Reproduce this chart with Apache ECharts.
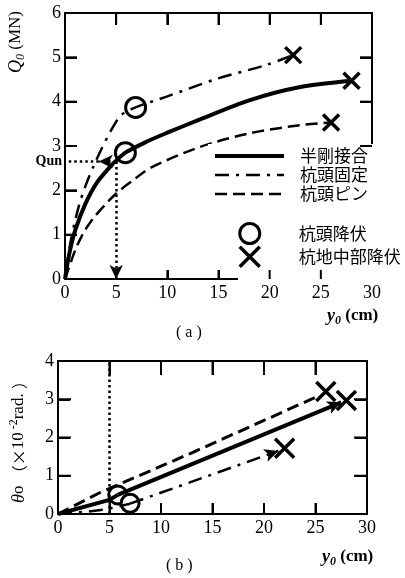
<!DOCTYPE html>
<html>
<head>
<meta charset="utf-8">
<script src="https://cdn.jsdelivr.net/npm/echarts@6/dist/echarts.min.js"></script>
<style>
html, body { margin: 0; padding: 0; background: #fff; }
#chart { width: 405px; height: 578px; }
</style>
</head>
<body>
<div id="chart"></div>
<script>
// (a) 水平荷重 Q0 (MN) - 杭頭変位 y0 (cm)
const semiRigidA = [[0, 0], [0.4, 0.55], [1.0, 1.1], [2.0, 1.7], [3.1, 2.17], [4.4, 2.53], [5.0, 2.67], [5.9, 2.85], [8, 3.1], [10, 3.3], [13.2, 3.6], [18, 4.03], [23, 4.33], [28, 4.47]]
const fixedHeadA = [[0, 0], [0.6, 0.9], [1.3, 1.6], [2.0, 2.1], [2.8, 2.55], [3.6, 2.95], [4.5, 3.35], [5.5, 3.7], [6.9, 3.87], [10, 4.12], [14.9, 4.52], [19.7, 4.83], [22.3, 5.05]]
const pinHeadA = [[0, 0], [1, 0.65], [1.8, 1.04], [2.8, 1.38], [4.1, 1.72], [5, 1.93], [6.5, 2.2], [8.3, 2.5], [13.2, 2.98], [18.1, 3.29], [23, 3.47], [26, 3.53]]
const headYieldA = [[5.9, 2.85], [6.9, 3.87]]
const bodyYieldA = [[22.3, 5.05], [28, 4.47], [26, 3.53]]

// (b) 杭頭回転角 θ0 (×10^-2 rad.) - y0 (cm)
const semiRigidB = [[0, 0], [5, 0.37], [5.8, 0.5], [27.5, 2.92]]
const fixedHeadB = [[0, 0], [2.8, 0.06], [4.6, 0.12], [7, 0.27], [21.4, 1.65]]
const pinHeadB = [[0, 0], [4, 0.55], [13, 1.6], [25.4, 3.1]]
const headYieldB = [[5.8, 0.5], [7, 0.28]]
const bodyYieldB = [[26, 3.2], [28, 2.97], [22, 1.72]]

// 目盛
const xTicks = [5, 10, 15, 20, 25]
const yTicksA = [1, 2, 3, 4, 5]
const yTicksRightA = [3, 4, 5] // 下側は凡例に隠れる
const yTicksB = [1, 2, 3]

// Qun の読み取り
const qunLevel = 2.65
const qunDisp = 5
const qunArrowAt = 3.3

const serif = '"Liberation Serif", "DejaVu Serif", serif'
const cjk = '"Noto Sans CJK JP", sans-serif'
const crossPath = 'path://M0 0L10 10M10 0L0 10'
const dashDot = [14, 7, 3, 7]
const dashed = [12, 6]
const dotted = [2.5, 3]

function xAx(grid, pos, showLabel, tickLen) {
    return {
        gridIndex: grid, type: 'value', position: pos, min: 0, max: 30, interval: 5,
        axisLine: { show: true, onZero: false, lineStyle: { color: '#000', width: 2 } },
        axisTick: { show: true, inside: true, length: tickLen, lineStyle: { color: '#000', width: 2 } },
        axisLabel: { show: showLabel, margin: 5, color: '#000', fontFamily: serif, fontSize: 18 },
        splitLine: { show: false },
    }
}

function yAx(grid, pos, max, showLabel) {
    return {
        gridIndex: grid, type: 'value', position: pos, min: 0, max: max, interval: 1,
        axisLine: { show: true, onZero: false, lineStyle: { color: '#000', width: 2 } },
        axisTick: { show: true, inside: true, length: 12, lineStyle: { color: '#000', width: 2 } },
        axisLabel: { show: showLabel, margin: 4, color: '#000', fontFamily: serif, fontSize: 18 },
        splitLine: { show: false },
    }
}

function lastSeg(arr) {
    return [{ coord: arr[arr.length - 2] }, { coord: arr[arr.length - 1] }]
}

const subRich = {
    i: { fontFamily: serif, fontStyle: 'italic', fontSize: 18, lineHeight: 22, verticalAlign: 'middle', color: '#000' },
    s: { fontFamily: serif, fontStyle: 'italic', fontSize: 12, lineHeight: 22, verticalAlign: 'bottom', color: '#000' },
    n: { fontFamily: serif, fontSize: 17, lineHeight: 22, verticalAlign: 'middle', color: '#000' },
    c: { fontFamily: cjk, fontSize: 16, lineHeight: 22, verticalAlign: 'middle', color: '#000' },
    p: { fontFamily: serif, fontSize: 12, lineHeight: 22, verticalAlign: 'top', color: '#000' },
}

const lineItem = { color: '#000' }
const circleItem = { color: '#fff', borderColor: '#000', borderWidth: 3, opacity: 1 }
const crossItem = { color: 'transparent', borderColor: '#000', borderWidth: 3.5, opacity: 1 }

const axisNames = [
    {
        type: 'text', x: 16, y: 42, rotation: Math.PI / 2,
        style: { text: '{i|Q}{s|0}{n| (MN)}', rich: subRich, align: 'center', verticalAlign: 'middle' },
    },
    {
        type: 'text', x: 19, y: 438, rotation: Math.PI / 2,
        style: { text: '{i|θ}{n|o }{c|（×}{n|10}{p| -2}{n|rad. }{c|）}', rich: subRich, align: 'center', verticalAlign: 'middle' },
    },
]

let chart = echarts.init(document.getElementById('chart'))
let option = {
    animation: false,
    grid: [
        { left: 65, top: 13, width: 307, height: 266 },
        { left: 58, top: 361, width: 309, height: 153 },
    ],
    xAxis: [
        xAx(0, 'bottom', true, 9),
        xAx(0, 'top', false, 12),
        xAx(1, 'bottom', true, 11),
        xAx(1, 'top', false, 14),
    ],
    yAxis: [
        yAx(0, 'left', 6, true),
        yAx(0, 'right', 6, false),
        yAx(1, 'left', 4, true),
        yAx(1, 'right', 4, false),
    ],
    title: [
        { text: '{i|y}{s|0}{n| (cm)}', left: 327, top: 305, padding: 0, textStyle: { rich: subRich } },
        { text: '( a )', left: 176, top: 325, padding: 0, textStyle: { fontFamily: serif, fontSize: 16, fontWeight: 'normal', color: '#000' } },
        { text: '{i|y}{s|0}{n| (cm)}', left: 322, top: 546, padding: 0, textStyle: { rich: subRich } },
        { text: '( b )', left: 166, top: 558, padding: 0, textStyle: { fontFamily: serif, fontSize: 16, fontWeight: 'normal', color: '#000' } },
    ],
    graphic: axisNames,
    legend: [
        {
            orient: 'vertical', left: 208, top: 144, padding: [3, 10, 19, 5],
            backgroundColor: '#fff', itemWidth: 69, itemHeight: 14, itemGap: 1, selectedMode: false,
            textStyle: { fontFamily: cjk, fontSize: 17, lineHeight: 18, padding: [0, 0, 0, 11], color: '#000' },
            data: [
                { name: '半剛接合', itemStyle: { opacity: 0 }, lineStyle: { width: 4 } },
                { name: '杭頭固定', itemStyle: { opacity: 0 }, lineStyle: { width: 2.5 } },
                { name: '杭頭ピン', itemStyle: { opacity: 0 }, lineStyle: { width: 2.5 } },
            ],
        },
        {
            orient: 'vertical', left: 238, top: 222, padding: [0, 4, 14, 0],
            backgroundColor: '#fff', itemWidth: 20, itemHeight: 20, itemGap: 0, selectedMode: false,
            textStyle: { fontFamily: cjk, fontSize: 17, lineHeight: 20, padding: [0, 0, 0, 34], color: '#000' },
            data: [
                { name: '杭頭降伏', icon: 'circle', itemStyle: circleItem },
                { name: '杭地中部降伏', icon: crossPath, itemStyle: crossItem },
            ],
        },
    ],
    series: [
        {
            name: '半剛接合', type: 'line', xAxisIndex: 0, yAxisIndex: 0, data: semiRigidA,
            symbol: 'none', smooth: 0.3, itemStyle: lineItem, lineStyle: { color: '#000', width: 4 },
            markLine: {
                silent: true, symbolSize: [10, 14],
                lineStyle: { color: '#000', width: 2.5, type: dotted },
                label: { show: false },
                data: [
                    [{ coord: [qunDisp, qunLevel], symbol: 'none' }, { coord: [qunArrowAt, qunLevel], symbol: 'arrow' }],
                    [{ coord: [qunArrowAt, qunLevel], symbol: 'none' }, {
                        coord: [0, qunLevel], symbol: 'none',
                        label: { show: true, position: 'end', distance: 3, formatter: 'Qun', color: '#000', fontFamily: serif, fontSize: 14, fontWeight: 'bold' },
                    }],
                    [{ coord: [qunDisp, qunLevel], symbol: 'none' }, { coord: [qunDisp, 0], symbol: 'arrow' }],
                ],
            },
        },
        {
            name: '杭頭固定', type: 'line', xAxisIndex: 0, yAxisIndex: 0, data: fixedHeadA,
            symbol: 'none', smooth: 0.3, itemStyle: lineItem, lineStyle: { color: '#000', width: 2.5, type: dashDot },
        },
        {
            name: '杭頭ピン', type: 'line', xAxisIndex: 0, yAxisIndex: 0, data: pinHeadA,
            symbol: 'none', smooth: 0.3, itemStyle: lineItem, lineStyle: { color: '#000', width: 2.5, type: dashed },
        },
        {
            name: '半剛接合', type: 'line', xAxisIndex: 2, yAxisIndex: 2, data: semiRigidB.slice(0, -1),
            symbol: 'none', itemStyle: lineItem, lineStyle: { color: '#000', width: 4 },
            markLine: {
                silent: true, symbol: ['none', 'arrow'], symbolSize: [10, 14],
                lineStyle: { color: '#000', width: 4, type: 'solid' }, label: { show: false },
                data: [lastSeg(semiRigidB)],
            },
        },
        {
            name: '杭頭固定', type: 'line', xAxisIndex: 2, yAxisIndex: 2, data: fixedHeadB.slice(0, -1),
            symbol: 'none', itemStyle: lineItem, lineStyle: { color: '#000', width: 2.5, type: dashDot },
            markLine: {
                silent: true, symbol: ['none', 'arrow'], symbolSize: [10, 14],
                lineStyle: { color: '#000', width: 2.5, type: dashDot }, label: { show: false },
                data: [lastSeg(fixedHeadB)],
            },
        },
        {
            name: '杭頭ピン', type: 'line', xAxisIndex: 2, yAxisIndex: 2, data: pinHeadB,
            symbol: 'none', itemStyle: lineItem, lineStyle: { color: '#000', width: 3, type: dashed },
            markLine: {
                silent: true, symbol: 'none',
                lineStyle: { color: '#000', width: 2.5, type: dotted }, label: { show: false },
                data: [{ xAxis: qunDisp }],
            },
        },
        {
            name: '杭頭降伏', type: 'scatter', xAxisIndex: 0, yAxisIndex: 0, data: headYieldA,
            symbol: 'circle', symbolSize: 20, itemStyle: circleItem,
        },
        {
            name: '杭地中部降伏', type: 'scatter', xAxisIndex: 0, yAxisIndex: 0, data: bodyYieldA,
            symbol: crossPath, symbolSize: 16, itemStyle: crossItem,
        },
        {
            name: '杭頭降伏', type: 'scatter', xAxisIndex: 2, yAxisIndex: 2, data: headYieldB,
            symbol: 'circle', symbolSize: 18, itemStyle: circleItem,
        },
        {
            name: '杭地中部降伏', type: 'scatter', xAxisIndex: 2, yAxisIndex: 2, data: bodyYieldB,
            symbol: crossPath, symbolSize: 19, itemStyle: crossItem,
        },
    ],
}

chart.setOption(option)

// 内向きの目盛線: 軸のスケールで位置を求めて描く
function tickLine(x1, y1, x2, y2) {
    return { type: 'line', z: 100, silent: true, shape: { x1, y1, x2, y2 }, style: { stroke: '#000', lineWidth: 2 } }
}

function tickElems(axisIdx, xs, ys, ysRight, xMax, yMax, lenBottom, lenTop, lenSide) {
    const finder = { xAxisIndex: axisIdx, yAxisIndex: axisIdx }
    const px = p => chart.convertToPixel(finder, p)
    const els = []
    xs.forEach(v => {
        const b = px([v, 0])
        const t = px([v, yMax])
        els.push(tickLine(b[0], b[1], b[0], b[1] - lenBottom))
        els.push(tickLine(t[0], t[1], t[0], t[1] + lenTop))
    })
    ys.forEach(v => {
        const l = px([0, v])
        els.push(tickLine(l[0], l[1], l[0] + lenSide, l[1]))
    })
    ysRight.forEach(v => {
        const r = px([xMax, v])
        els.push(tickLine(r[0], r[1], r[0] - lenSide, r[1]))
    })
    return els
}

chart.setOption({
    graphic: axisNames.concat(
        tickElems(0, xTicks, yTicksA, yTicksRightA, 30, 6, 9, 12, 12),
        tickElems(2, xTicks, yTicksB, yTicksB, 30, 4, 11, 14, 13)
    ),
})

window.addEventListener('resize', () => {
    chart.resize()
})
</script>
</body>
</html>
